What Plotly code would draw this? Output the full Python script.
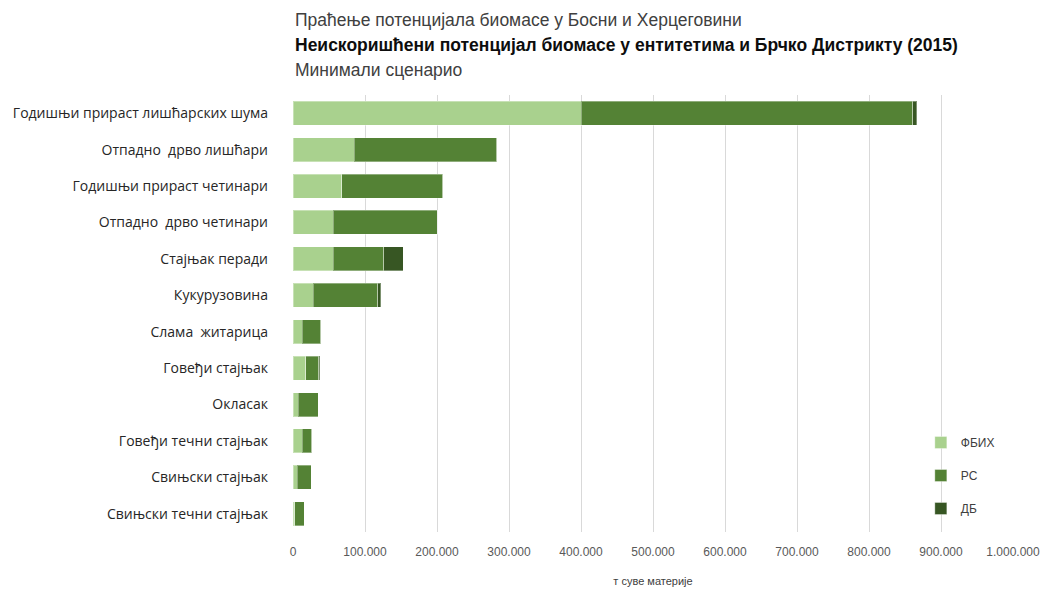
import plotly.graph_objects as go

categories = [
    "Годишњи прираст лишћарских шума",
    "Отпадно  дрво лишћари",
    "Годишњи прираст четинари",
    "Отпадно  дрво четинари",
    "Стајњак перади",
    "Кукурузовина",
    "Слама  житарица",
    "Говеђи стајњак",
    "Окласак",
    "Говеђи течни стајњак",
    "Свињски стајњак",
    "Свињски течни стајњак",
]
fbih = [400000, 85000, 68000, 56000, 56000, 28000, 12500, 18000, 7000, 13000, 6000, 2500]
rs = [461000, 198000, 140000, 144000, 70000, 90000, 26000, 18000, 28000, 13000, 19000, 13000]
db = [5000, 0, 0, 0, 27000, 4000, 0, 1000, 0, 0, 0, 0]

series_names = ["ФБИХ", "РС", "ДБ"]
series_values = [fbih, rs, db]
colors = ["#A9D18E", "#548235", "#375623"]

tickvals = list(range(0, 1000001, 100000))
ticktext = ["0"] + [f"{v:,}".replace(",", ".") for v in tickvals[1:]]

fig = go.Figure()
for i, (name, vals, col) in enumerate(zip(series_names, series_values, colors)):
    fig.add_trace(go.Bar(
        y=categories, x=vals, name=name, orientation="h",
        marker=dict(color=col, line=dict(color="rgba(255,255,255,0.35)", width=1)),
        legendgroup=f"g{i}",
    ))

W, H = 1048, 591
L, R, T, B = 285, 43, 87, 67
ph = H - T - B

def py(ypx):
    return (H - B - ypx) / ph

fig.update_layout(
    width=W, height=H,
    margin=dict(l=L, r=R, t=T, b=B),
    barmode="stack",
    bargap=0.34,
    plot_bgcolor="white",
    paper_bgcolor="white",
    font=dict(family="Liberation Sans, Arial, sans-serif", color="#404040"),
    showlegend=True,
    legend=dict(
        x=0.872, y=py(420), xanchor="left", yanchor="top",
        traceorder="grouped", tracegroupgap=14,
        font=dict(size=12, color="#404040", family="Liberation Sans, Arial, sans-serif"),
        bgcolor="rgba(0,0,0,0)",
    ),
    xaxis=dict(
        range=[0, 1000000], automargin=False,
        tickvals=tickvals, ticktext=ticktext,
        showgrid=True, gridcolor="#D9D9D9", gridwidth=1,
        zeroline=False, showline=False,
        tickfont=dict(size=12, color="#595959"),
        ticks="", ticklabelstandoff=11,
        title=dict(text="т суве материје", font=dict(size=11, color="#404040"), standoff=19),
    ),
    yaxis=dict(
        autorange="reversed", automargin=False,
        showgrid=False, zeroline=False, showline=False,
        tickfont=dict(size=14, color="#262626", family="Open Sans, Liberation Sans, sans-serif"),
        ticks="", ticklabelstandoff=24,
    ),
)

titles = [
    ("Праћење потенцијала биомасе у Босни и Херцеговини", 12, False),
    ("<b>Неискоришћени потенцијал биомасе у ентитетима и Брчко Дистрикту (2015)</b>", 37, True),
    ("Минимали сценарио", 62, False),
]
for text, ypx, bold in titles:
    fig.add_annotation(
        text=text, xref="paper", yref="paper", x=0, y=py(ypx),
        xanchor="left", yanchor="middle", showarrow=False,
        font=dict(size=17.5, color="#0D0D0D" if bold else "#404040",
                  family="Liberation Sans Narrow, Liberation Sans, Arial, sans-serif"),
    )

fig.write_html("out.html")
